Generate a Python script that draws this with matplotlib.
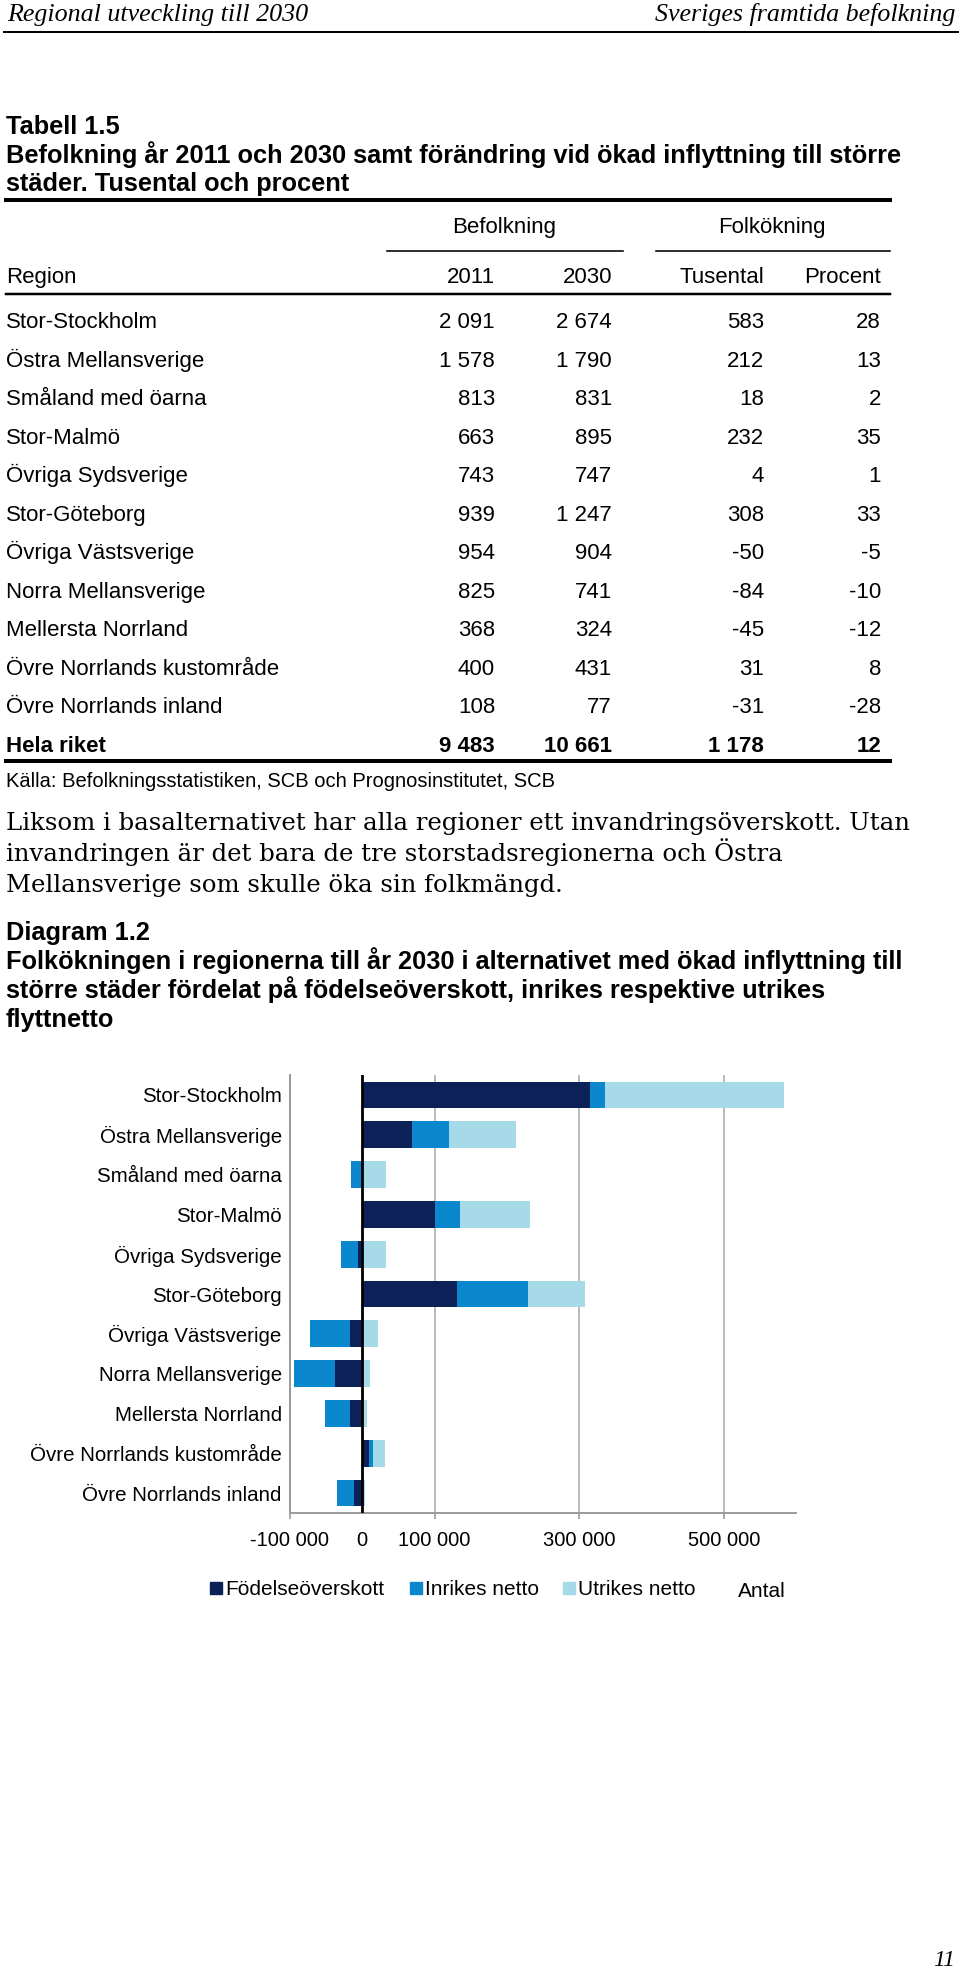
import matplotlib
matplotlib.use('Agg')
import matplotlib.pyplot as plt
from matplotlib.lines import Line2D
from matplotlib.patches import Rectangle
import numpy as np

# table data (tusental)
regions = ['Stor-Stockholm', 'Östra Mellansverige', 'Småland med öarna', 'Stor-Malmö',
           'Övriga Sydsverige', 'Stor-Göteborg', 'Övriga Västsverige', 'Norra Mellansverige',
           'Mellersta Norrland', 'Övre Norrlands kustområde', 'Övre Norrlands inland']
pop_2011 = [2091, 1578, 813, 663, 743, 939, 954, 825, 368, 400, 108]
pop_2030 = [2674, 1790, 831, 895, 747, 1247, 904, 741, 324, 431, 77]
change_thousands = [583, 212, 18, 232, 4, 308, -50, -84, -45, 31, -31]
change_percent = [28, 13, 2, 35, 1, 33, -5, -10, -12, 8, -28]
total_row = ['Hela riket', 9483, 10661, 1178, 12]

# diagram data (antal personer)
fodelseoverskott = np.array([315, 69, 0, 100, -6, 131, -17, -38, -17, 9, -12]) * 1000
inrikes_netto = np.array([21, 51, -15, 35, -23, 98, -55, -57, -34, 6, -23]) * 1000
utrikes_netto = np.array([247, 92, 33, 97, 33, 79, 22, 11, 6, 16, 4]) * 1000

W, H = 960, 1969
fig = plt.figure(figsize=(9.6, 19.69), dpi=100)

SANS = 'Liberation Sans'
SERIF = 'DejaVu Serif'
TABLE_FS = 16
TITLE_FS = 18.3


def txt(x, y, s, **kw):
    kw.setdefault('va', 'baseline')
    kw.setdefault('family', SANS)
    fig.text(x / W, 1 - y / H, s, **kw)


def hline(x0, x1, y, px):
    fig.add_artist(Line2D([x0 / W, x1 / W], [1 - y / H, 1 - y / H],
                          transform=fig.transFigure, color='black', lw=px * 0.72))


def fmt(n):
    return f'{n:,}'.replace(',', ' ')


# page header
txt(7, 21, 'Regional utveckling till 2030', family='Liberation Serif', style='italic', fontsize=18.7)
txt(955, 21, 'Sveriges framtida befolkning', family='Liberation Serif', style='italic',
    fontsize=18.7, ha='right')
hline(4, 958, 32, 2)

# table title
title_lines = ['Tabell 1.5',
               'Befolkning år 2011 och 2030 samt förändring vid ökad inflyttning till större',
               'städer. Tusental och procent']
for i, s in enumerate(title_lines):
    txt(6, 134 + 28.5 * i, s, fontsize=TITLE_FS, weight='bold')

hline(6, 890, 200, 4)
txt(504, 233, 'Befolkning', fontsize=TABLE_FS, ha='center')
txt(772, 233, 'Folkökning', fontsize=TABLE_FS, ha='center')
hline(387, 623, 251, 1.6)
hline(656, 890, 251, 1.6)

col_x = [495, 612, 764, 881]
txt(6, 283, 'Region', fontsize=TABLE_FS)
for x, s in zip(col_x, ['2011', '2030', 'Tusental', 'Procent']):
    txt(x, 283, s, fontsize=TABLE_FS, ha='right')
hline(6, 890, 294, 2.5)

for i, r in enumerate(regions):
    yb = 328.3 + 38.5 * i
    txt(6, yb, r, fontsize=TABLE_FS)
    vals = [pop_2011[i], pop_2030[i], change_thousands[i], change_percent[i]]
    for x, v in zip(col_x, vals):
        txt(x, yb, fmt(v), fontsize=TABLE_FS, ha='right')

yb = 328.3 + 38.5 * len(regions)
txt(6, yb, total_row[0], fontsize=TABLE_FS, weight='bold')
for x, v in zip(col_x, total_row[1:]):
    txt(x, yb, fmt(v), fontsize=TABLE_FS, ha='right', weight='bold')
hline(6, 890, 761, 4)
txt(6, 787, 'Källa: Befolkningsstatistiken, SCB och Prognosinstitutet, SCB', fontsize=14.5)

# body text
body = ['Liksom i basalternativet har alla regioner ett invandringsöverskott. Utan',
        'invandringen är det bara de tre storstadsregionerna och Östra',
        'Mellansverige som skulle öka sin folkmängd.']
for i, s in enumerate(body):
    txt(6, 830 + 31 * i, s, family=SERIF, fontsize=17.6)

# diagram title
diag_lines = ['Diagram 1.2',
              'Folkökningen i regionerna till år 2030 i alternativet med ökad inflyttning till',
              'större städer fördelat på födelseöverskott, inrikes respektive utrikes',
              'flyttnetto']
for i, s in enumerate(diag_lines):
    txt(6, 940 + 29 * i, s, fontsize=TITLE_FS, weight='bold')

# chart
colors = ['#0B2158', '#0A87CD', '#A6DAE8']
labels = ['Födelseöverskott', 'Inrikes netto', 'Utrikes netto']
ax = fig.add_axes([290 / W, 1 - 1513 / H, (796 - 290) / W, (1513 - 1075) / H])
y = np.arange(len(regions))
pos = np.zeros(len(regions))
neg = np.zeros(len(regions))
for vals, c, lab in zip([fodelseoverskott, inrikes_netto, utrikes_netto], colors, labels):
    left = np.where(vals >= 0, pos, neg)
    ax.barh(y, vals, left=left, height=0.67, color=c, label=lab, zorder=3)
    pos += np.clip(vals, 0, None)
    neg += np.clip(vals, None, 0)

ax.set_xlim(-100000, 600000)
ax.set_ylim(len(regions) - 0.5, -0.5)
ax.set_yticks(y)
ax.set_yticklabels(regions, family=SANS, fontsize=14.8)
ax.tick_params(axis='y', length=0, pad=6)
ax.set_xticks([-100000, 100000, 300000, 500000])
ax.set_xticklabels(['-100 000', '100 000', '300 000', '500 000'], family=SANS, fontsize=14.5)
ax.set_xticks([0], minor=True)
ax.set_xticklabels(['0'], minor=True, family=SANS, fontsize=14.5)
ax.tick_params(axis='x', which='major', length=4, color='#9A9A9A', width=1.2, pad=9)
ax.tick_params(axis='x', which='minor', length=0, pad=13)
ax.grid(axis='x', color='#A8A8A8', lw=1.1, zorder=0)
for s in ['top', 'right']:
    ax.spines[s].set_visible(False)
for s in ['left', 'bottom']:
    ax.spines[s].set_color('#9A9A9A')
    ax.spines[s].set_linewidth(1.4)
ax.axvline(0, color='black', lw=2, zorder=4)

# legend
leg_items = [(210, labels[0], colors[0]), (410, labels[1], colors[1]), (563, labels[2], colors[2])]
for x, lab, c in leg_items:
    fig.add_artist(Rectangle((x / W, 1 - 1594 / H), 12 / W, 12 / H,
                             transform=fig.transFigure, color=c))
    txt(x + 15, 1595, lab, fontsize=15)
txt(738, 1597, 'Antal', fontsize=15)

# page number
txt(955, 1966, '11', family='Liberation Serif', style='italic', fontsize=17, ha='right')

fig.savefig('out.png', dpi=100)
